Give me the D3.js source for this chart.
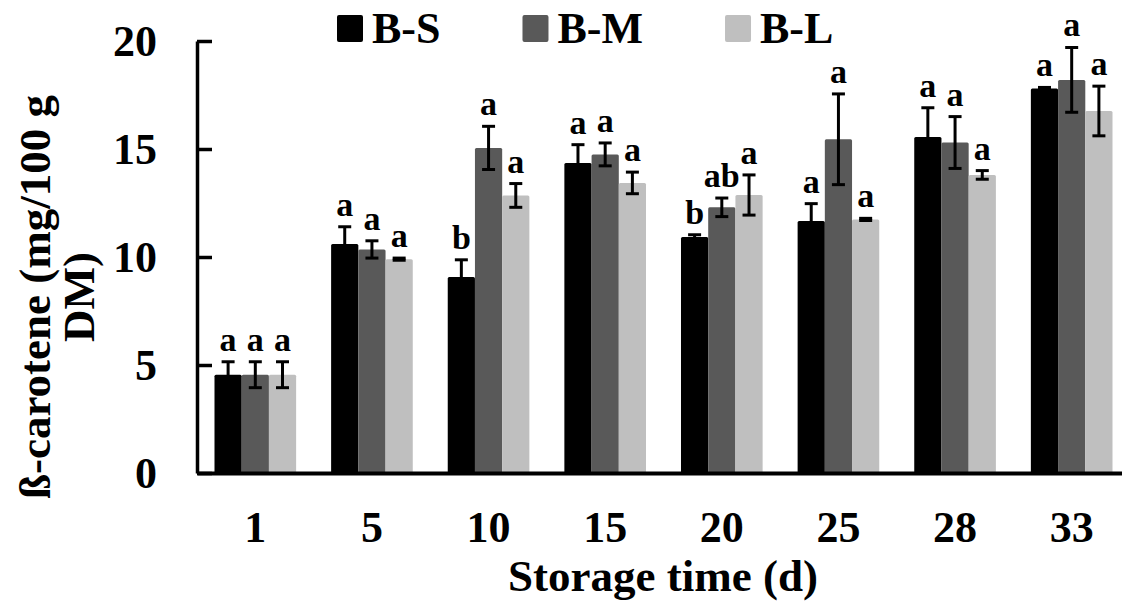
<!DOCTYPE html>
<html>
<head>
  <meta charset="utf-8">
  <title>Beta-carotene during storage</title>
  <script src="https://d3js.org/d3.v7.min.js"></script>
  <style>
    body {
      margin: 0;
      background-color: #ffffff;
    }
    svg text {
      font-family: "Liberation Serif", "Times New Roman", "DejaVu Serif", serif !important;
      font-weight: 700;
      fill: #000;
    }
    .axis text {
      font-size: 44px;
    }
    .sig-label {
      font-size: 34px;
    }
  </style>
</head>
<body>
  <div id="chart"></div>

  <script>
    // storage days (categories)
    const days = ['1', '5', '10', '15', '20', '25', '28', '33'];
    const seriesNames = ['B-S', 'B-M', 'B-L'];
    const seriesColors = ['#000000', '#595959', '#bfbfbf'];

    // means (mg/100 g DM)
    const bsValues = [4.55, 10.6, 9.07, 14.35, 10.93, 11.67, 15.56, 17.8];
    const bmValues = [4.55, 10.35, 15.05, 14.75, 12.3, 15.45, 15.3, 18.2];
    const blValues = [4.55, 9.9, 12.85, 13.43, 12.87, 11.74, 13.8, 16.76];

    // standard deviations
    const bsErrors = [0.6, 0.8, 0.8, 0.85, 0.1, 0.8, 1.35, 0.05];
    const bmErrors = [0.6, 0.4, 1.0, 0.53, 0.43, 2.1, 1.2, 1.5];
    const blErrors = [0.6, 0.05, 0.55, 0.5, 0.93, 0.05, 0.2, 1.15];

    // significance letters
    const bsLetters = ['a', 'a', 'b', 'a', 'b', 'a', 'a', 'a'];
    const bmLetters = ['a', 'a', 'a', 'a', 'ab', 'a', 'a', 'a'];
    const blLetters = ['a', 'a', 'a', 'a', 'a', 'a', 'a', 'a'];

    const yTicks = [0, 5, 10, 15, 20];

    const FONT = '"Liberation Serif", "Times New Roman", serif';

    function drawChart() {
      const width = 1122, height = 603;
      const margin = { top: 41, left: 197, bottom: 130 };

      const svg = d3.select('#chart')
        .append('svg')
        .attr('width', width)
        .attr('height', height)
        .attr('font-family', FONT);

      const values = [bsValues, bmValues, blValues];
      const errors = [bsErrors, bmErrors, blErrors];
      const letters = [bsLetters, bmLetters, blLetters];

      // flatten into one row per bar
      const rows = [];
      days.forEach((day, i) => {
        seriesNames.forEach((name, s) => {
          rows.push({ day, series: name, idx: s, value: values[s][i], err: errors[s][i], letter: letters[s][i] });
        });
      });

      const x = d3.scaleBand()
        .domain(days)
        .range([margin.left, 1130])
        .paddingInner(0.3)
        .paddingOuter(0.15);

      const xInner = d3.scaleBand()
        .domain(seriesNames)
        .range([0, x.bandwidth()]);

      const y = d3.scaleLinear()
        .domain([0, 20])
        .range([height - margin.bottom, margin.top]);

      // bars
      svg.append('g')
        .selectAll('rect')
        .data(rows)
        .enter()
        .append('rect')
        .attr('x', d => x(d.day) + xInner(d.series))
        .attr('y', d => y(d.value))
        .attr('width', xInner.bandwidth())
        .attr('height', d => y(0) - y(d.value))
        .attr('rx', 1.5)
        .attr('fill', d => seriesColors[d.idx]);

      // error bars
      const capHalf = 6.5;
      const errGroup = svg.append('g')
        .attr('stroke', '#000')
        .attr('stroke-width', 3);

      const eb = errGroup.selectAll('g')
        .data(rows)
        .enter()
        .append('g')
        .attr('transform', d => `translate(${x(d.day) + xInner(d.series) + xInner.bandwidth() / 2},0)`);

      eb.append('line')
        .attr('y1', d => y(d.value + d.err))
        .attr('y2', d => y(d.value - d.err));
      eb.append('line')
        .attr('x1', -capHalf).attr('x2', capHalf)
        .attr('y1', d => y(d.value + d.err))
        .attr('y2', d => y(d.value + d.err));
      eb.append('line')
        .attr('x1', -capHalf).attr('x2', capHalf)
        .attr('y1', d => y(d.value - d.err))
        .attr('y2', d => y(d.value - d.err));

      // significance letters
      svg.append('g')
        .selectAll('text')
        .data(rows)
        .enter()
        .append('text')
        .attr('class', 'sig-label')
        .attr('x', d => x(d.day) + xInner(d.series) + xInner.bandwidth() / 2)
        .attr('y', d => y(d.value + d.err) - 11)
        .attr('text-anchor', 'middle')
        .text(d => d.letter);

      // y axis, ticks pointing inward
      const yAxis = d3.axisLeft(y)
        .tickValues(yTicks)
        .tickSizeInner(-15)
        .tickSizeOuter(0)
        .tickPadding(40);

      const yAxisGroup = svg.append('g')
        .attr('class', 'axis')
        .attr('transform', `translate(${margin.left},0)`)
        .call(yAxis)
        .attr('font-family', FONT);
      yAxisGroup.select('.domain').attr('stroke-width', 3.5);
      yAxisGroup.selectAll('.tick line').attr('stroke-width', 3.5);

      // x axis
      const xAxis = d3.axisBottom(x)
        .tickSize(0)
        .tickSizeOuter(0);

      const xAxisGroup = svg.append('g')
        .attr('class', 'axis')
        .attr('transform', `translate(0,${y(0)})`)
        .call(xAxis)
        .attr('font-family', FONT);
      xAxisGroup.select('.domain').attr('stroke-width', 4);
      xAxisGroup.selectAll('text')
        .attr('dy', null)
        .attr('y', 69);

      // axis titles
      svg.append('text')
        .attr('x', 663)
        .attr('y', 591)
        .attr('text-anchor', 'middle')
        .attr('font-size', '45px')
        .text('Storage time (d)');

      svg.append('text')
        .attr('transform', 'translate(50,297) rotate(-90)')
        .attr('text-anchor', 'middle')
        .attr('font-size', '45px')
        .text('ß-carotene (mg/100 g');

      svg.append('text')
        .attr('transform', 'translate(94,297) rotate(-90)')
        .attr('text-anchor', 'middle')
        .attr('font-size', '45px')
        .text('DM)');

      // legend along the top
      const legend = svg.append('g');
      let lx = 337;
      seriesNames.forEach((name, s) => {
        legend.append('rect')
          .attr('x', lx)
          .attr('y', 15)
          .attr('width', 26)
          .attr('height', 27)
          .attr('rx', 2)
          .attr('fill', seriesColors[s]);
        const t = legend.append('text')
          .attr('x', lx + 35)
          .attr('y', 43)
          .attr('font-size', '44px')
          .text(name);
        lx += 35 + t.node().getComputedTextLength() + 82;
      });
    }

    drawChart();
  </script>
</body>
</html>
